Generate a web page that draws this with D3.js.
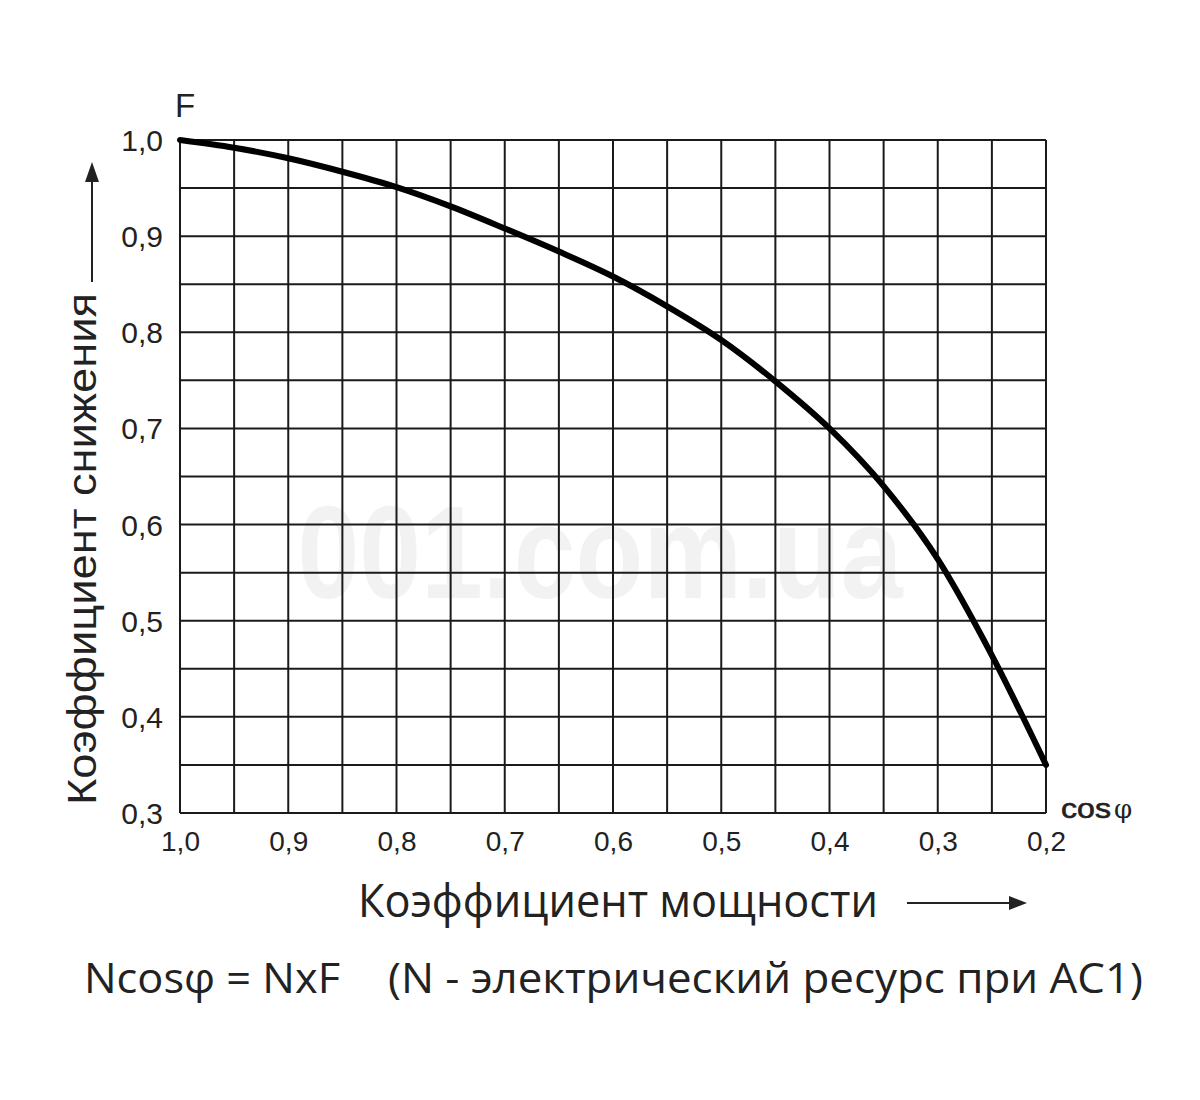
<!DOCTYPE html>
<html><head><meta charset="utf-8">
<script src="https://cdn.jsdelivr.net/npm/d3@7/dist/d3.min.js"></script>
<style>body{margin:0;background:#fff}</style>
</head><body>
<svg id="c" width="1200" height="1100"></svg>
<script>
// Data
const cosPhi  = [1.00, 0.95, 0.90, 0.85, 0.80, 0.75, 0.70, 0.65, 0.60, 0.55, 0.50, 0.45, 0.40, 0.35, 0.30, 0.25, 0.20];
const factorF = [1.000, 0.992, 0.981, 0.967, 0.951, 0.931, 0.908, 0.884, 0.858, 0.827, 0.792, 0.749, 0.700, 0.640, 0.564, 0.464, 0.350];
const xTickValues = [1.0, 0.9, 0.8, 0.7, 0.6, 0.5, 0.4, 0.3, 0.2];
const yTickValues = [1.0, 0.9, 0.8, 0.7, 0.6, 0.5, 0.4, 0.3];
const yTitle = "Коэффициент снижения";
const xTitle = "Коэффициент мощности";
const formulaLeft = "Ncosφ = NxF";
const formulaRight = "(N - электрический ресурс при AC1)";
const yName = "F";
const xName = "cos";
const xNamePhi = "φ";
const watermark = "001.com.ua";

const svg = d3.select("#c");
const L = 180, R = 1046, T = 140, B = 813;
const x = d3.scaleLinear().domain([1.0, 0.2]).range([L, R]);
const y = d3.scaleLinear().domain([0.3, 1.0]).range([B, T]);
const fmt = v => d3.format(".1f")(v).replace(".", ",");
const ink = "#1a1a1a";

// watermark
svg.append("text").attr("x", 600).attr("y", 598).attr("text-anchor", "middle")
  .attr("font-family", "Liberation Sans, Arial, sans-serif").attr("font-weight", "bold")
  .attr("font-size", 132).attr("fill", "#f2f2f2").attr("textLength", 605)
  .attr("lengthAdjust", "spacingAndGlyphs").text(watermark);

// grid
const g = svg.append("g");
g.selectAll("line.v").data(x.ticks(16)).join("line")
  .attr("x1", d => x(d)).attr("x2", d => x(d)).attr("y1", T).attr("y2", B)
  .attr("stroke", ink).attr("stroke-width", 2);
g.selectAll("line.h").data(y.ticks(14)).join("line")
  .attr("x1", L).attr("x2", R).attr("y1", d => y(d)).attr("y2", d => y(d))
  .attr("stroke", ink).attr("stroke-width", 2);

// axes labels via d3 axes
const xAxis = svg.append("g").attr("transform", `translate(0,${B})`)
  .call(d3.axisBottom(x).tickValues(xTickValues).tickFormat(fmt).tickSize(0).tickPadding(38));
xAxis.select(".domain").remove();
xAxis.selectAll("text").attr("font-family", "Liberation Sans, Arial, sans-serif")
  .attr("font-size", 28).attr("fill", "#222").attr("dy", "0");

const yAxis = svg.append("g").attr("transform", `translate(${L},0)`)
  .call(d3.axisLeft(y).tickValues(yTickValues).tickFormat(fmt).tickSize(0).tickPadding(17));
yAxis.select(".domain").remove();
yAxis.selectAll("text").attr("font-family", "Liberation Sans, Arial, sans-serif")
  .attr("font-size", 30).attr("fill", "#222").attr("dy", "0.35em");

// curve
const line = d3.line().x((d, i) => x(cosPhi[i])).y(d => y(d)).curve(d3.curveMonotoneX);
svg.append("path").attr("d", line(factorF)).attr("fill", "none")
  .attr("stroke", "#000").attr("stroke-width", 6).attr("stroke-linecap", "round");

// F label
svg.append("text").attr("x", 175).attr("y", 117)
  .attr("font-family", "Liberation Sans, Arial, sans-serif").attr("font-size", 33)
  .attr("fill", "#222").text(yName);

// cos φ
svg.append("text").attr("x", 1061).attr("y", 818)
  .attr("font-family", "Liberation Sans, Arial, sans-serif").attr("font-size", 27)
  .attr("fill", "#222").attr("stroke", "#222").attr("stroke-width", 0.6)
  .attr("textLength", 50).attr("lengthAdjust", "spacingAndGlyphs").text(xName);
svg.append("text").attr("x", 1114).attr("y", 818)
  .attr("font-family", "DejaVu Serif, serif").attr("font-size", 26)
  .attr("fill", "#222").text(xNamePhi);

// y title (rotated)
svg.append("text").attr("transform", "translate(96,805) rotate(-90)")
  .attr("font-family", "Liberation Sans, Arial, sans-serif").attr("font-size", 41)
  .attr("fill", "#222").attr("textLength", 512).attr("lengthAdjust", "spacingAndGlyphs")
  .text(yTitle);
// y arrow
svg.append("line").attr("x1", 92).attr("x2", 92).attr("y1", 282).attr("y2", 178)
  .attr("stroke", "#222").attr("stroke-width", 2);
svg.append("path").attr("d", "M92,162 L85,182 L99,182 Z").attr("fill", "#222");

// x title
svg.append("text").attr("x", 358).attr("y", 917)
  .attr("font-family", "Open Sans, Noto Sans, sans-serif").attr("font-size", 45)
  .attr("fill", "#222").attr("textLength", 520).attr("lengthAdjust", "spacingAndGlyphs")
  .text(xTitle);
svg.append("line").attr("x1", 907).attr("x2", 1012).attr("y1", 903).attr("y2", 903)
  .attr("stroke", "#222").attr("stroke-width", 2);
svg.append("path").attr("d", "M1027,903 L1009,896 L1009,910 Z").attr("fill", "#222");

// formula
svg.append("text").attr("x", 84).attr("y", 993)
  .attr("font-family", "Open Sans, Noto Sans, sans-serif").attr("font-size", 42)
  .attr("fill", "#222").attr("textLength", 256).attr("lengthAdjust", "spacingAndGlyphs")
  .text(formulaLeft);
svg.append("text").attr("x", 388).attr("y", 993)
  .attr("font-family", "Open Sans, Noto Sans, sans-serif").attr("font-size", 42)
  .attr("fill", "#222").attr("textLength", 755).attr("lengthAdjust", "spacingAndGlyphs")
  .text(formulaRight);
</script>
</body></html>
